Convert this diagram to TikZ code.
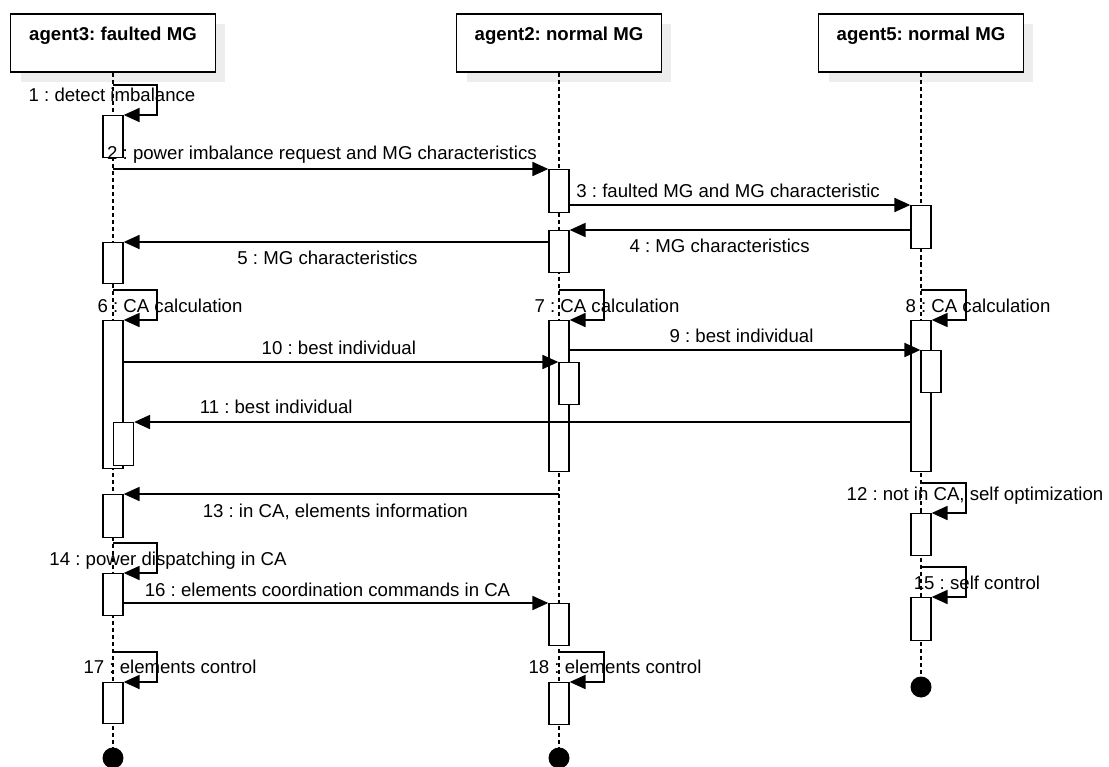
\documentclass[tikz,border=0pt]{standalone}
\usepackage{fontspec}
\setmainfont{Liberation Sans}
\usetikzlibrary{arrows.meta,positioning,shadows}
\frenchspacing

\begin{document}
\begin{tikzpicture}[
    x=0.02cm, y=-0.02cm,
    font=\fontsize{10.6}{12.7}\selectfont,
    agent/.style={rectangle, draw=black, fill=white, line width=1pt, minimum width=4.1cm, inner sep=0pt, text height=0.54cm, text depth=0.62cm, font=\fontsize{10.6}{12.7}\selectfont\bfseries, anchor=north, drop shadow={shadow xshift=0.2cm, shadow yshift=-0.2cm, fill=black!7, opacity=1}},
    lifeline/.style={dash pattern=on 2.3pt off 1.7pt, line width=0.8pt},
    act/.style={rectangle, draw=black, fill=white, line width=0.8pt, minimum width=0.4cm, minimum height=#1*0.02cm, inner sep=0pt, anchor=north},
    message/.style={-{Triangle[length=9pt, width=8pt]}, line width=0.8pt},
    msglabel/.style={anchor=base, inner sep=0pt},
    enddot/.style={circle, fill=black, minimum size=0.42cm, inner sep=0pt}
]
\useasboundingbox (0,0) rectangle (1109,767);

% Agents
\node[agent] (agent3) at (113,13) {agent3: faulted MG};
\node[agent] (agent2) at (559,13) {agent2: normal MG};
\node[agent] (agent5) at (921,13) {agent5: normal MG};

% End of lifelines
\node[enddot] (end3) at (113,758) {};
\node[enddot] (end2) at (559,758) {};
\node[enddot] (end5) at (921,687) {};

% Lifelines
\draw[lifeline] (agent3.south) -- (end3.center);
\draw[lifeline] (agent2.south) -- (end2.center);
\draw[lifeline] (agent5.south) -- (end5.center);

% Activations
\node[act=42] (a3a) at (113,115) {};
\node[act=41] (a3b) at (113,242) {};
\node[act=148] (a3c) at (113,320) {};
\node[act=43] (a3n) at (123.5,422) {};
\node[act=43] (a3d) at (113,494) {};
\node[act=42] (a3e) at (113,573) {};
\node[act=41] (a3f) at (113,682) {};

\node[act=43] (a2a) at (559,169) {};
\node[act=42] (a2b) at (559,230) {};
\node[act=151] (a2c) at (559,320) {};
\node[act=42] (a2n) at (569,362) {};
\node[act=42] (a2d) at (559,603) {};
\node[act=42] (a2e) at (559,682) {};

\node[act=43] (a5a) at (921,205) {};
\node[act=151] (a5b) at (921,320) {};
\node[act=42] (a5n) at (931,350) {};
\node[act=42] (a5c) at (921,513) {};
\node[act=43] (a5d) at (921,597) {};

% Free ends of messages
\coordinate (s1) at (113,85);
\coordinate (m2) at (113,169);
\coordinate (s6) at (113,290);
\coordinate (s7) at (559,290);
\coordinate (s8) at (921,290);
\coordinate (s12) at (921,483);
\coordinate (m13) at (559,494);
\coordinate (s14) at (113,543);
\coordinate (s15) at (921,567);
\coordinate (s17) at (113,652);
\coordinate (s18) at (559,652);

% Messages
\draw[message] (s1) -- ++(44,0) |- (a3a.north east);
\node[msglabel] (t1) at (112,102) {1 : detect imbalance};
\draw[message] (m2) -- node[msglabel, pos=0.48, yshift=0.2cm] (t2) {2 : power imbalance request and MG characteristics} (a2a.north west);
\draw[message] (a2a.east |- a5a.north) -- node[msglabel, pos=0.465, yshift=0.16cm] (t3) {3 : faulted MG and MG characteristic} (a5a.north west);
\draw[message] (a5a.west |- a2b.north) -- node[msglabel, pos=0.56, yshift=-0.46cm] (t4) {4 : MG characteristics} (a2b.north east);
\draw[message] (a2b.west |- a3b.north) -- node[msglabel, pos=0.52, yshift=-0.46cm] (t5) {5 : MG characteristics} (a3b.north east);
\draw[message] (s6) -- ++(44,0) |- (a3c.north east);
\node[msglabel] (t6) at (170,312) {6 : CA calculation};
\draw[message] (s7) -- ++(45,0) |- (a2c.north east);
\node[msglabel] (t7) at (607,312) {7 : CA calculation};
\draw[message] (s8) -- ++(45,0) |- (a5b.north east);
\node[msglabel] (t8) at (978,312) {8 : CA calculation};
\draw[message] (a2c.east |- a5n.north) -- node[msglabel, pos=0.49, yshift=0.15cm] (t9) {9 : best individual} (a5n.north west);
\draw[message] (a3c.east |- a2n.north) -- node[msglabel, pos=0.495, yshift=0.16cm] (t10) {10 : best individual} (a2n.north west);
\draw[message] (a5b.west |- a3n.north) -- node[msglabel, pos=0.817, yshift=0.18cm] (t11) {11 : best individual} (a3n.north east);
\draw[message] (s12) -- ++(45,0) |- (a5c.north east);
\node[msglabel] (t12) at (975,500) {12 : not in CA, self optimization};
\draw[message] (m13) -- node[msglabel, pos=0.514, yshift=-0.46cm] (t13) {13 : in CA, elements information} (a3d.north east);
\draw[message] (s14) -- ++(44,0) |- (a3e.north east);
\node[msglabel] (t14) at (168,565) {14 : power dispatching in CA};
\draw[message] (s15) -- ++(45,0) |- (a5d.north east);
\node[msglabel] (t15) at (977,589) {15 : self control};
\draw[message] (a3e.east |- a2d.north) -- node[msglabel, pos=0.48, yshift=0.13cm] (t16) {16 : elements coordination commands in CA} (a2d.north west);
\draw[message] (s17) -- ++(44,0) |- (a3f.north east);
\node[msglabel] (t17) at (170,673) {17 : elements control};
\draw[message] (s18) -- ++(45,0) |- (a2e.north east);
\node[msglabel] (t18) at (615,673) {18 : elements control};

\end{tikzpicture}
\end{document}
